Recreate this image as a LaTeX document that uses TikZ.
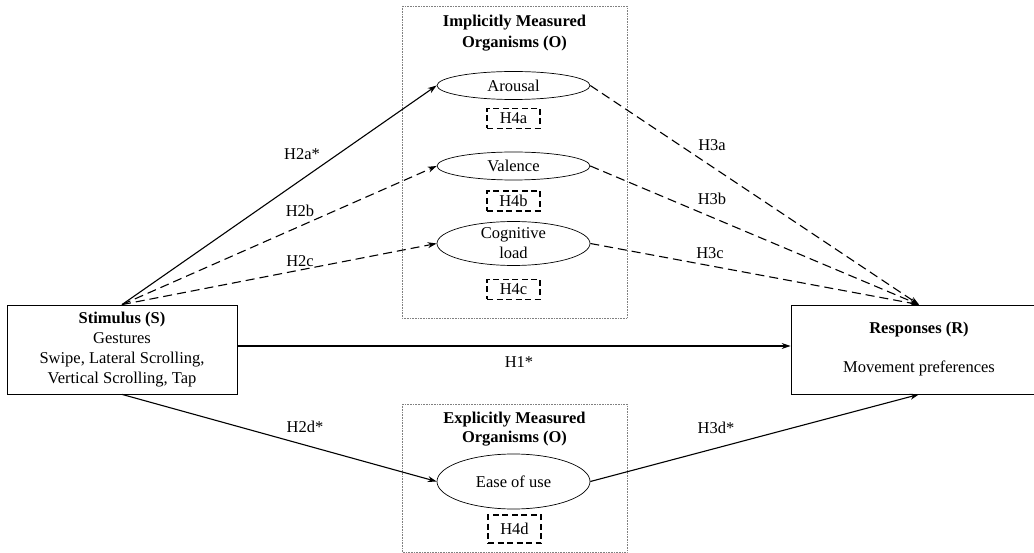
\documentclass[tikz,border=0pt]{standalone}
\usepackage{fontspec}
\setmainfont{Liberation Serif}
\usetikzlibrary{shapes.geometric}
\usetikzlibrary{arrows.meta}

\tikzset{
  every node/.style={font=\fontsize{16.5}{20}\selectfont},
  org/.style={draw, ellipse, line width=0.7pt, minimum width=153pt, minimum height=28pt, inner sep=0pt, align=center},
  hbox/.style={draw, line width=1.2pt, dash pattern=on 6pt off 3.5pt, minimum width=53pt, minimum height=20pt, inner sep=0pt},
  group/.style={draw=gray, densely dotted, line width=0.6pt},
  mainbox/.style={draw, line width=0.8pt, minimum height=89pt, inner sep=0pt, align=center},
  link/.style={line width=1.1pt, -{Stealth[length=9pt, width=6pt]}},
  dlink/.style={link, dash pattern=on 9pt off 5pt},
}

\begin{document}
\begin{tikzpicture}[x=1pt, y=-1pt]
\useasboundingbox (0,0) rectangle (1034,553);

% organism groups
\draw[group] (402,6) rectangle (627,318);
\node[align=center, font=\fontsize{16.5}{21}\selectfont\bfseries] (imptitle) at (514.5,33) {Implicitly Measured\\Organisms (O)};
\draw[group] (402,404) rectangle (627,552);
\node[align=center, font=\fontsize{16.5}{19}\selectfont\bfseries] (exptitle) at (514.5,429) {Explicitly Measured\\Organisms (O)};

% organisms
\node[org] (arousal) at (513.5,85.5) {Arousal};
\node[org] (valence) at (513.5,166) {Valence};
\node[org, minimum height=39pt] (cogload) at (513.5,243.5) {Cognitive\\load};
\node[org, minimum height=55pt] (ease) at (513.5,481.5) {Ease of use};

\node[hbox] (h4a) at (513.5,118.5) {H4a};
\node[hbox] (h4b) at (513.5,201) {H4b};
\node[hbox] (h4c) at (513.5,289.5) {H4c};
\node[hbox, minimum height=28pt] (h4d) at (514.5,529) {H4d};

% stimulus and responses
\node[mainbox, minimum width=230pt] (stim) at (122,349.5) {\textbf{Stimulus (S)}\\Gestures\\Swipe, Lateral Scrolling,\\Vertical Scrolling, Tap};
\node[mainbox, minimum width=256pt] (resp) at (919,349.5) {\textbf{Responses (R)}\\[19pt]Movement preferences};

% paths
\draw[link] (stim.north) -- (arousal.west);
\draw[dlink] (stim.north) -- (valence.west);
\draw[dlink] (stim.north) -- (cogload.west);
\draw[link] ([yshift=3.5pt]stim.east) -- ([yshift=3.5pt]stim.east -| resp.west);
\draw[link] (stim.south) -- (ease.west);

\draw[dlink] (arousal.east) -- (resp.north);
\draw[dlink] (valence.east) -- (resp.north);
\draw[dlink] (cogload.east) -- (resp.north);
\draw[link] (ease.east) -- (resp.south);

% hypothesis labels
\node (h2a) at (302,154) {H2a*};
\node (h2b) at (300,211) {H2b};
\node (h2c) at (300,261) {H2c};
\node (h2d) at (305,427) {H2d*};
\node (h1) at (519,362) {H1*};
\node (h3a) at (712,145) {H3a};
\node (h3b) at (712,199) {H3b};
\node (h3c) at (710,253) {H3c};
\node (h3d) at (716,428) {H3d*};
\end{tikzpicture}
\end{document}
